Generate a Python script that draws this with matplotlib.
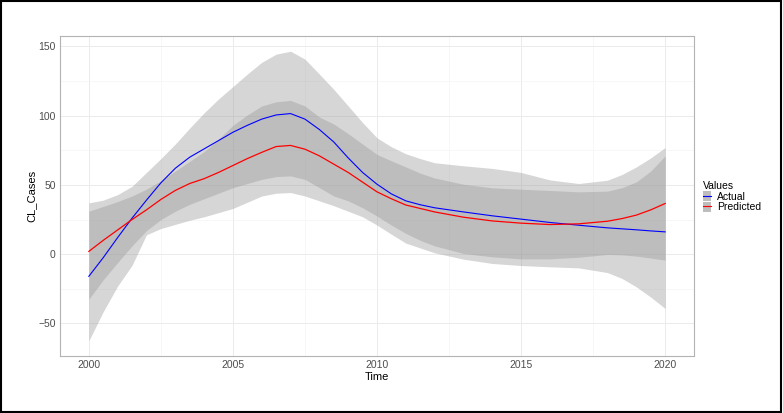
import matplotlib.pyplot as plt
from matplotlib.patches import Patch, Rectangle
from matplotlib.lines import Line2D
from matplotlib.ticker import MultipleLocator

plt.rcParams['font.family'] = ['Liberation Sans', 'DejaVu Sans']

# data
years = [2000, 2000.5, 2001, 2001.5, 2002, 2002.5, 2003, 2003.5, 2004, 2004.5,
         2005, 2005.5, 2006, 2006.5, 2007, 2007.5, 2008, 2008.5, 2009, 2009.5,
         2010, 2010.5, 2011, 2011.5, 2012, 2013, 2014, 2015, 2016, 2017,
         2018, 2018.5, 2019, 2019.5, 2020]
actual = [-16, -2.5, 12, 26, 39, 51.5, 62, 70, 76, 82,
          88, 93, 97.5, 100.5, 101.5, 97.5, 90, 81, 69.5, 59,
          50.5, 43.5, 38.5, 35.7, 33.5, 30.5, 27.7, 25.3, 22.9, 20.9,
          19, 18.3, 17.6, 16.8, 16.1]
predicted = [2, 10, 17.5, 25, 32, 39.5, 46, 51, 54.5, 59,
             64, 69, 73.5, 77.7, 78.5, 75.8, 71, 65, 59, 52,
             45, 40, 35.5, 33, 30.5, 26.7, 24, 22.4, 21.4, 21.9,
             23.8, 25.7, 28.2, 32, 36.6]
# ribbon envelopes (outer = union of both CIs, inner = their overlap)
outer_hi = [37, 39, 43, 49, 59, 69, 79.5, 91, 102, 112,
            121, 130, 138.5, 144.4, 146.5, 140.8, 130, 119, 107, 95,
            84, 77.5, 72.5, 69, 66, 63.8, 61.9, 59, 53.6, 51,
            53.4, 57.5, 63, 69.5, 77]
inner_hi = [31, 34.5, 38, 42, 47, 53, 60, 67, 74, 83,
            93, 100.5, 107, 110, 111, 107, 99, 94, 87, 79.5,
            72, 67.4, 63, 58.5, 55, 50.5, 47.9, 46.9, 46, 45,
            45.5, 48, 52.2, 60, 71]
inner_lo = [-32.5, -18.5, -6, 6, 17, 25, 31, 36, 40, 44,
            48, 51, 54, 56, 56.5, 54, 48, 42, 38.5, 33.5,
            27.5, 21, 15, 10, 6, 0.5, -1.9, -3.4, -3.4, -2.2,
            -0.2, -0.5, -1.4, -2.8, -4.3]
outer_lo = [-62.5, -41.5, -23, -8, 14, 18.5, 21.5, 24.5, 27, 30,
            33, 37.5, 42, 44, 44.5, 42, 38.5, 35, 31, 27,
            21, 14.4, 8, 4.5, 1, -3.6, -6.7, -8.2, -9.1, -9.9,
            -13.3, -17.5, -23.6, -31, -39.2]

fig = plt.figure(figsize=(7.83, 4.13), dpi=100)
ax = fig.add_axes([60/783, 1-356/413, 634/783, 320/413])

band = '#999999'
ax.fill_between(years, outer_lo, outer_hi, color=band, alpha=0.4, lw=0)
ax.fill_between(years, inner_lo, inner_hi, color=band, alpha=0.4, lw=0)
ax.plot(years, actual, color='blue', lw=0.8)
ax.plot(years, predicted, color='red', lw=0.9)

ax.set_xlim(1999, 2021)
ax.set_ylim(-73.5, 157.5)
ax.xaxis.set_major_locator(MultipleLocator(5))
ax.xaxis.set_minor_locator(MultipleLocator(2.5))
ax.yaxis.set_major_locator(MultipleLocator(50))
ax.yaxis.set_minor_locator(MultipleLocator(25))
ax.grid(which='major', color='#ebebeb', lw=0.7)
ax.grid(which='minor', color='#f4f4f4', lw=0.5)
ax.set_axisbelow(True)
ax.tick_params(which='both', length=0, labelsize=7.5, labelcolor='#4d4d4d', pad=3)
for s in ax.spines.values():
    s.set_color('#b3b3b3')
    s.set_linewidth(0.8)

ax.set_xlabel('Time', fontsize=8, labelpad=1)
ax.set_ylabel('CL_Cases', fontsize=8, labelpad=1)

key_a = (Patch(facecolor='#bdbdbd', edgecolor='none'), Line2D([], [], color='blue', lw=0.8))
key_p = (Patch(facecolor='#bdbdbd', edgecolor='none'), Line2D([], [], color='red', lw=0.8))
leg = fig.legend([key_a, key_p], ['Actual', 'Predicted'], title='Values',
                 loc='upper left', bbox_to_anchor=(696/783, 1-174/413),
                 frameon=False, fontsize=7.5, title_fontsize=7.5,
                 handlelength=0.7, handleheight=1.1, handletextpad=0.6,
                 labelspacing=0.0, borderpad=0.2)
leg._legend_box.align = 'left'

fig.patches.append(Rectangle((0.001, 0.002), 0.997, 0.996, transform=fig.transFigure,
                             fill=False, edgecolor='black', lw=1.5))

fig.savefig('out.png', dpi=100)
